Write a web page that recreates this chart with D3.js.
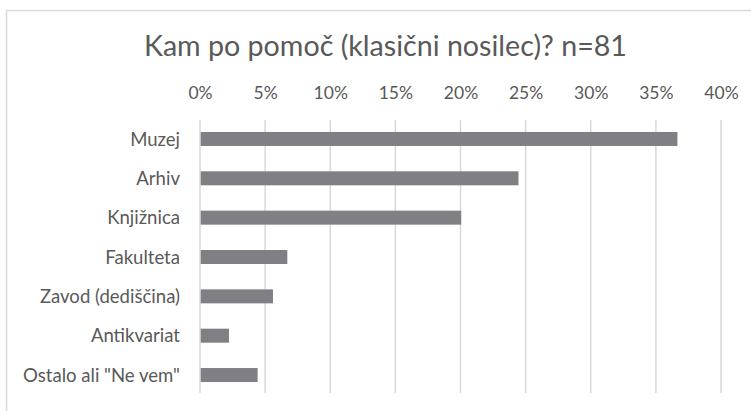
<!DOCTYPE html>
<html>
<head>
<meta charset="utf-8">
<script src="https://cdn.jsdelivr.net/npm/d3@7/dist/d3.min.js"></script>
<style>
  html, body { margin: 0; padding: 0; background: #fff; }
  svg { display: block; }
  text { font-family: Lato, "Open Sans", sans-serif; fill: #595959; }
</style>
</head>
<body>
<svg id="chart" width="751" height="411"></svg>
<script>
// Survey answers: where people turn for help (classic media), share of n=81
const categories = ["Muzej", "Arhiv", "Knjižnica", "Fakulteta", "Zavod (dediščina)", "Antikvariat", "Ostalo ali \"Ne vem\""];
const shares = [0.366, 0.244, 0.200, 0.0665, 0.0555, 0.0217, 0.0437];
const tickValues = [0, 0.05, 0.10, 0.15, 0.20, 0.25, 0.30, 0.35, 0.40];
const titleText = "Kam po pomoč (klasični nosilec)? n=81";

const svg = d3.select("#chart");
const W = 751, H = 411;
const plot = { left: 200, right: 721, top: 120, bottom: 393 };

// chart frame
svg.append("rect")
  .attr("x", 6.5).attr("y", 10.5)
  .attr("width", W + 20).attr("height", H + 20)
  .attr("fill", "#fff")
  .attr("stroke", "#d9d9d9").attr("stroke-width", 1.5);

const x = d3.scaleLinear().domain([0, 0.40]).range([plot.left, plot.right]);
const y = d3.scaleBand().domain(categories)
  .range([plot.top - 0.7, plot.bottom + 1.7])
  .paddingInner(0.644).paddingOuter(0.322);

// fit a text element to a target width by adjusting its font size
function fitWidth(sel, target) {
  const node = sel.node();
  const fs = parseFloat(sel.attr("font-size"));
  const w = node.getComputedTextLength();
  const size = fs * target / w;
  sel.attr("font-size", size.toFixed(2));
  return size;
}

// title
const title = svg.append("text")
  .attr("x", 385.5).attr("y", 56)
  .attr("text-anchor", "middle")
  .attr("font-size", 28)
  .text(titleText);
fitWidth(title, 483);

// top axis labels
const xAxis = d3.axisTop(x)
  .tickValues(tickValues)
  .tickFormat(d3.format(".0%"))
  .tickSize(0)
  .tickPadding(0);

const gx = svg.append("g")
  .attr("transform", `translate(0,${plot.top})`)
  .call(xAxis);
gx.select(".domain").remove();
gx.selectAll(".tick text")
  .attr("y", 98.7 - plot.top)
  .attr("dy", 0)
  .attr("font-size", 17.5)
  .attr("fill", "#595959");

// vertical gridlines
svg.append("g")
  .selectAll("line")
  .data(tickValues)
  .join("line")
  .attr("x1", d => x(d)).attr("x2", d => x(d))
  .attr("y1", plot.top).attr("y2", plot.bottom)
  .attr("stroke", "#d9d9d9").attr("stroke-width", 1.5);

// category labels
const yAxis = d3.axisLeft(y).tickSize(0).tickPadding(20);
const gy = svg.append("g")
  .attr("transform", `translate(${plot.left},0)`)
  .call(yAxis);
gy.select(".domain").remove();
const labels = gy.selectAll(".tick text")
  .attr("font-size", 16.5)
  .attr("dy", "0.36em")
  .attr("fill", "#595959");
// size the labels so the longest one spans its column
const longest = labels.filter(d => d === categories[categories.length - 1]);
const labelSize = fitWidth(longest, 157);
labels.attr("font-size", labelSize.toFixed(2));

// bars
svg.append("g")
  .selectAll("rect")
  .data(categories.map((c, i) => ({ c, v: shares[i] })))
  .join("rect")
  .attr("x", x(0) + 0.7)
  .attr("y", d => y(d.c))
  .attr("width", d => x(d.v) - x(0))
  .attr("height", y.bandwidth())
  .attr("fill", "#808084");
</script>
</body>
</html>
